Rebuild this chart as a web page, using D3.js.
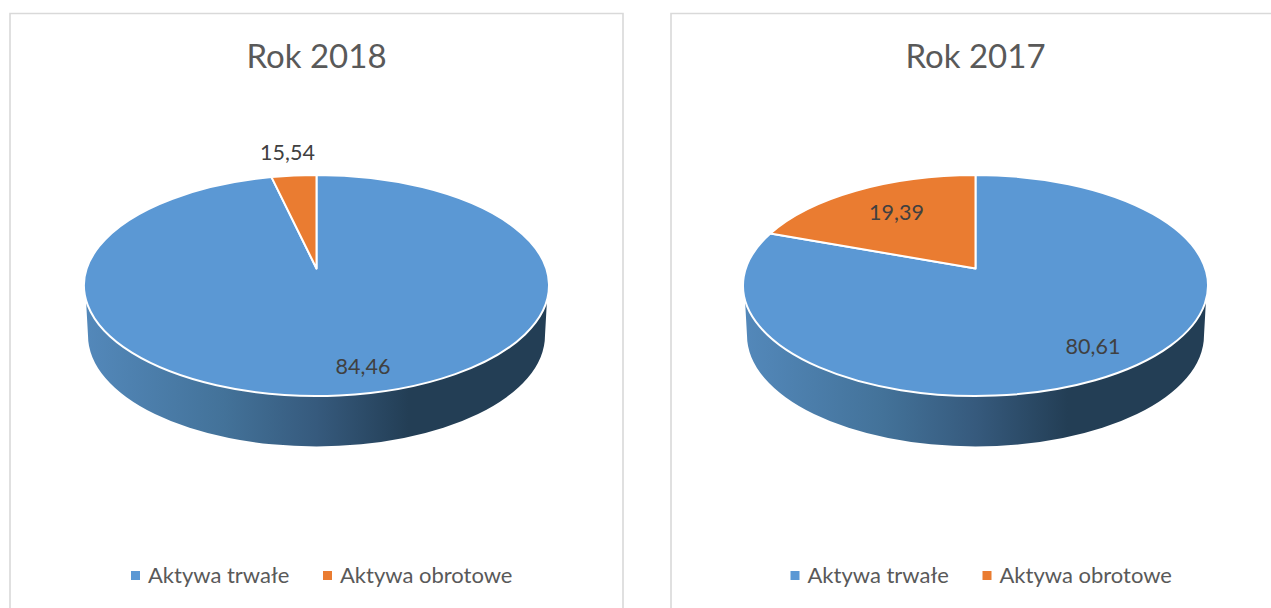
<!DOCTYPE html>
<html>
<head>
<meta charset="utf-8">
<script src="https://cdnjs.cloudflare.com/ajax/libs/d3/7.8.5/d3.min.js"></script>
<style>
  html, body { margin: 0; padding: 0; background: #fff; overflow: hidden; }
  svg { display: block; }
  text { font-family: Lato, "Open Sans", sans-serif; }
</style>
</head>
<body>
<svg id="chart" width="1271" height="608"></svg>
<script>
// values as printed on the chart
const categories = ["Aktywa trwałe", "Aktywa obrotowe"];
const titles = ["Rok 2018", "Rok 2017"];
const labels2018 = ["84,46", "15,54"];
const labels2017 = ["80,61", "19,39"];
// share of the circle each slice really covers in the picture (2018 is drawn much thinner than its label says)
const shares2018 = [96.9, 3.1];
const shares2017 = [82.8, 17.2];

const BLUE = "#5b98d4", ORANGE = "#ea7c31";
const color = d3.scaleOrdinal().domain(categories).range([BLUE, ORANGE]);

const svg = d3.select("#chart");
const defs = svg.append("defs");

// side wall shading
const grad = defs.append("linearGradient").attr("id", "wall")
  .attr("x1", "0").attr("x2", "1").attr("y1", "0").attr("y2", "0");
grad.append("stop").attr("offset", "0").attr("stop-color", "#5388ba");
grad.append("stop").attr("offset", "0.3").attr("stop-color", "#437299");
grad.append("stop").attr("offset", "0.5").attr("stop-color", "#365a7d");
grad.append("stop").attr("offset", "0.7").attr("stop-color", "#233e55");
grad.append("stop").attr("offset", "1").attr("stop-color", "#233e55");

const panels = [
  { title: titles[0], labels: labels2018, shares: shares2018, frame: [10, 623], cx: 316.5, titleX: 316.5,
    labelAt: [[363, 366], [287.5, 152]], legendX: [131, 323] },
  { title: titles[1], labels: labels2017, shares: shares2017, frame: [671, 1290], cx: 975.5, titleX: 975.5,
    labelAt: [[1093, 346], [896.5, 212]], legendX: [790.5, 982.5] }
];

// pie geometry (perspective: apex sits above ellipse centre, floor ellipse is narrower)
const RX = 232.5, RY = 110.5, CY = 285.5, APEX_Y = 268.5;
const FLOOR_RX = 228.5, FLOOR_RY = 111, FLOOR_CY = 335.5, WALL_Y = 300;

const pie = d3.pie().sort(null).value(d => d);

panels.forEach(p => {
  const g = svg.append("g");

  g.append("path")
    .attr("d", `M${p.frame[0]},608 V13.5 H${p.frame[1]} V608`)
    .attr("fill", "none").attr("stroke", "#d9d9d9").attr("stroke-width", 1.6);

  g.append("text").attr("x", p.titleX).attr("y", 68)
    .attr("text-anchor", "middle").attr("font-size", 33).attr("fill", "#595959")
    .text(p.title);

  const px = a => p.cx + RX * Math.sin(a);
  const py = a => CY - RY * Math.cos(a);

  // side wall
  const wallDx = RX * Math.sqrt(1 - Math.pow((WALL_Y - CY) / RY, 2));
  g.append("path")
    .attr("d", `M${p.cx - wallDx},${WALL_Y} L${p.cx - FLOOR_RX},${FLOOR_CY}` +
      ` A${FLOOR_RX},${FLOOR_RY} 0 0 0 ${p.cx + FLOOR_RX},${FLOOR_CY}` +
      ` L${p.cx + wallDx},${WALL_Y}` +
      ` A${RX},${RY} 0 0 1 ${p.cx - wallDx},${WALL_Y} Z`)
    .attr("fill", "url(#wall)");

  // slices, clockwise from 12 o'clock
  g.selectAll("path.slice").data(pie(p.shares)).join("path")
    .attr("class", "slice")
    .attr("fill", (d, i) => color(categories[i]))
    .attr("stroke", "#fff").attr("stroke-width", 2).attr("stroke-linejoin", "round")
    .attr("d", d => {
      const large = d.endAngle - d.startAngle > Math.PI ? 1 : 0;
      return `M${p.cx},${APEX_Y} L${px(d.startAngle)},${py(d.startAngle)}` +
        ` A${RX},${RY} 0 ${large} 1 ${px(d.endAngle)},${py(d.endAngle)} Z`;
    });

  g.selectAll("text.val").data(p.labels).join("text")
    .attr("class", "val")
    .attr("x", (d, i) => p.labelAt[i][0]).attr("y", (d, i) => p.labelAt[i][1] + 7.5)
    .attr("text-anchor", "middle").attr("font-size", 21.5).attr("fill", "#404040")
    .text(d => d);

  // legend
  const leg = g.selectAll("g.leg").data(categories).join("g")
    .attr("class", "leg")
    .attr("transform", (d, i) => `translate(${p.legendX[i]},575)`);
  leg.append("rect").attr("x", 0).attr("y", -4).attr("width", 9).attr("height", 9)
    .attr("fill", d => color(d));
  leg.append("text").attr("x", 17).attr("y", 7.5)
    .attr("font-size", 22).attr("fill", "#595959")
    .text(d => d);
});
</script>
</body>
</html>
